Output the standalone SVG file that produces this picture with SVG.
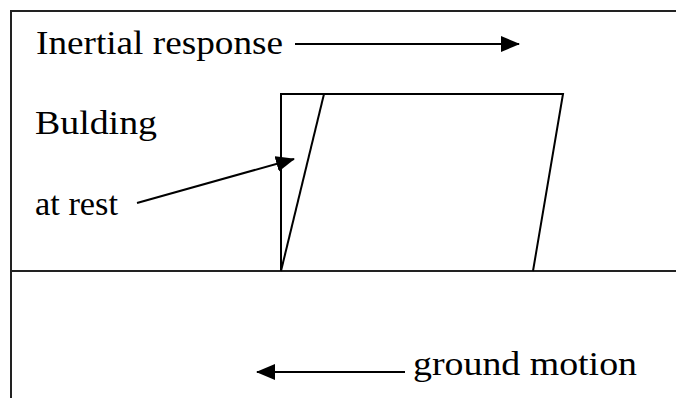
<svg xmlns="http://www.w3.org/2000/svg" width="676" height="398" viewBox="0 0 676 398">
<style>
.lbl{font-family:"Liberation Serif","Times New Roman",serif;font-size:33px;fill:#000}
.frame{fill:none;stroke:#222;stroke-width:2}
.bld{fill:none;stroke:#000;stroke-width:2;stroke-linejoin:miter}
.conn{fill:none;stroke:#000;stroke-width:2}
</style>
<defs>
<marker id="ah" markerUnits="userSpaceOnUse" markerWidth="20" markerHeight="18" refX="18" refY="8" orient="auto">
<path d="M0,0 L19,8 L0,16 z" fill="#000"/>
</marker>
</defs>
<rect x="0" y="0" width="676" height="398" fill="#fff"/>
<g id="frame">
<path class="frame" d="M11,410 L11,11 L690,11"/>
<line class="frame" x1="11" y1="271" x2="690" y2="271"/>
</g>
<g id="building">
<path class="bld" d="M281,271 L281,94 L563,94 L533,271"/>
<line class="bld" x1="324" y1="94" x2="281" y2="271"/>
</g>
<g id="label-inertial"><text class="lbl" x="36" y="54" textLength="247" lengthAdjust="spacingAndGlyphs">Inertial response</text></g>
<g id="label-building"><text class="lbl" x="35" y="134" textLength="122" lengthAdjust="spacingAndGlyphs">Bulding</text></g>
<g id="label-rest"><text class="lbl" x="35" y="215" textLength="83" lengthAdjust="spacingAndGlyphs">at rest</text></g>
<g id="label-ground"><text class="lbl" x="413" y="375" textLength="224" lengthAdjust="spacingAndGlyphs">ground motion</text></g>
<g id="connectors">
<line class="conn" x1="295" y1="44" x2="519" y2="44" marker-end="url(#ah)"/>
<line class="conn" x1="137" y1="203" x2="294" y2="159" marker-end="url(#ah)"/>
<line class="conn" x1="405" y1="372" x2="257" y2="372" marker-end="url(#ah)"/>
</g>
</svg>
